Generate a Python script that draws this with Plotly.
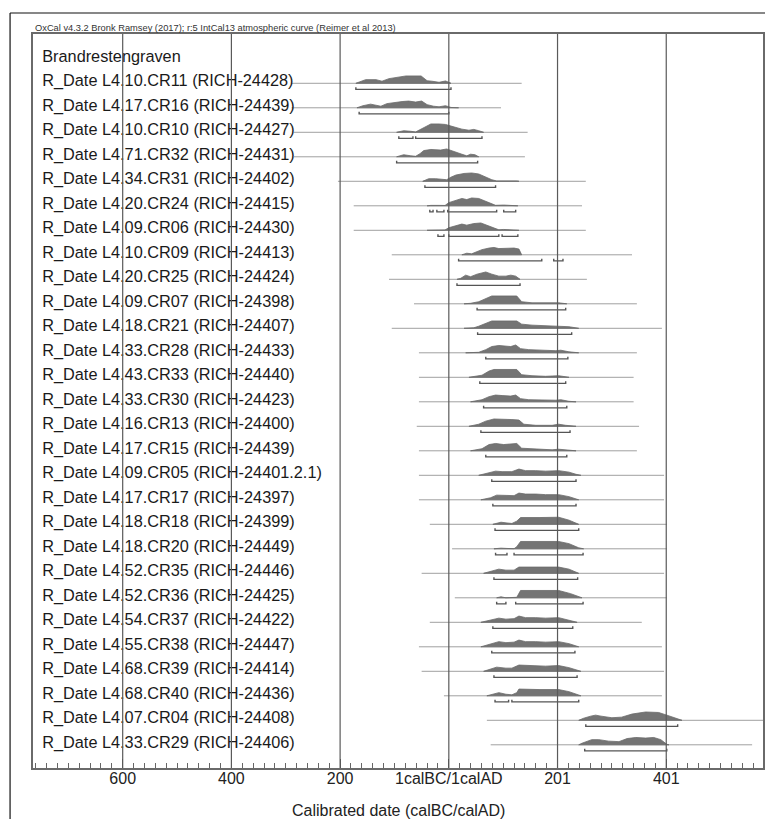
import plotly.graph_objects as go

# ---------------- data (years: BC negative, AD positive) ----------------
header = "Brandrestengraven"
labels = [
    "R_Date L4.10.CR11 (RICH-24428)", "R_Date L4.17.CR16 (RICH-24439)",
    "R_Date L4.10.CR10 (RICH-24427)", "R_Date L4.71.CR32 (RICH-24431)",
    "R_Date L4.34.CR31 (RICH-24402)", "R_Date L4.20.CR24 (RICH-24415)",
    "R_Date L4.09.CR06 (RICH-24430)", "R_Date L4.10.CR09 (RICH-24413)",
    "R_Date L4.20.CR25 (RICH-24424)", "R_Date L4.09.CR07 (RICH-24398)",
    "R_Date L4.18.CR21 (RICH-24407)", "R_Date L4.33.CR28 (RICH-24433)",
    "R_Date L4.43.CR33 (RICH-24440)", "R_Date L4.33.CR30 (RICH-24423)",
    "R_Date L4.16.CR13 (RICH-24400)", "R_Date L4.17.CR15 (RICH-24439)",
    "R_Date L4.09.CR05 (RICH-24401.2.1)", "R_Date L4.17.CR17 (RICH-24397)",
    "R_Date L4.18.CR18 (RICH-24399)", "R_Date L4.18.CR20 (RICH-24449)",
    "R_Date L4.52.CR35 (RICH-24446)", "R_Date L4.52.CR36 (RICH-24425)",
    "R_Date L4.54.CR37 (RICH-24422)", "R_Date L4.55.CR38 (RICH-24447)",
    "R_Date L4.68.CR39 (RICH-24414)", "R_Date L4.68.CR40 (RICH-24436)",
    "R_Date L4.07.CR04 (RICH-24408)", "R_Date L4.33.CR29 (RICH-24406)",
]

# extent of the thin horizontal line of each date
line_start = [-289, -289, -285, -285, -204, -175, -175, -105, -110, -64,
              -105, -55, -55, -55, -59, -55, -55, -55, -35, 6,
              -50, 11, -35, -55, -50, -9, 70, 77]
line_end = [134, 96, 145, 140, 252, 245, 252, 337, 254, 346,
            392, 346, 340, 340, 350, 346, 396, 396, 401, 401,
            396, 401, 355, 392, 396, 392, 580, 558]

# posterior probability shapes (year, relative probability)
dist_years = [
    [-171, -162, -153, -134, -123, -110, -92, -79, -51, -40, -31, -18, -6, 4],
    [-169, -158, -144, -125, -114, -97, -86, -74, -61, -50, -40, -28, -18, -6, 4, 18],
    [-96, -83, -70, -61, -55, -42, -33, -18, -6, 4, 13, 24, 37, 46, 55, 64],
    [-96, -83, -70, -61, -53, -46, -33, -22, -15, -4, 4, 13, 24, 33, 40, 48, 55],
    [-48, -37, -24, -13, -4, 4, 13, 28, 42, 55, 68, 79, 88, 101, 125, 129],
    [-40, -33, -18, -7, 0, 13, 24, 33, 42, 55, 64, 77, 86, 101, 123, 127],
    [-40, -18, -7, 0, 13, 24, 33, 46, 59, 70, 83, 92, 101, 125, 129],
    [24, 28, 33, 42, 52, 61, 74, 83, 92, 105, 120, 129, 134],
    [15, 22, 31, 40, 52, 68, 79, 92, 105, 114, 123, 131],
    [28, 40, 55, 68, 79, 125, 134, 153, 178, 202, 217],
    [28, 46, 55, 68, 79, 125, 134, 153, 178, 202, 221, 239],
    [31, 55, 68, 79, 92, 105, 114, 123, 132, 147, 171, 197, 206, 221, 239],
    [37, 61, 74, 83, 125, 134, 153, 178, 202, 221],
    [40, 61, 74, 86, 98, 114, 123, 132, 147, 171, 197, 206, 221, 234],
    [37, 55, 68, 83, 116, 129, 138, 160, 190, 202, 215, 234],
    [40, 61, 74, 86, 101, 116, 125, 134, 160, 190, 202, 221, 234],
    [55, 74, 86, 98, 116, 129, 141, 160, 178, 202, 221, 234, 243],
    [59, 77, 88, 101, 120, 129, 141, 160, 178, 202, 221, 239],
    [81, 96, 107, 116, 125, 132, 166, 202, 221, 239],
    [83, 96, 107, 120, 125, 132, 202, 221, 239, 248],
    [64, 77, 92, 105, 120, 129, 147, 178, 202, 221, 239],
    [88, 96, 105, 125, 132, 202, 224, 245],
    [59, 74, 92, 105, 120, 129, 141, 160, 178, 202, 221, 236],
    [59, 74, 92, 105, 120, 129, 141, 160, 178, 202, 221, 239],
    [64, 77, 88, 105, 116, 129, 147, 178, 202, 221, 243],
    [70, 79, 92, 105, 116, 125, 129, 166, 202, 221, 243],
    [239, 248, 261, 270, 280, 291, 300, 318, 337, 362, 386, 401, 423, 429],
    [239, 245, 263, 276, 294, 313, 328, 344, 362, 377, 390, 401, 405],
]
dist_prob = [
    [0, .25, .44, .44, .25, .56, .75, .88, .88, .31, .25, .12, .28, 0],
    [0, .25, .44, .19, .5, .69, .75, .81, .69, .81, .38, .19, .12, .25, .04, 0],
    [0, .19, .12, .04, .25, .75, 1, 1, .94, .75, .56, .38, .25, .35, .19, 0],
    [0, .25, .12, .06, .38, .75, .88, .88, .81, .94, .75, .5, .31, .12, .31, .25, 0],
    [0, .31, .31, .25, .19, .5, .75, .94, 1, .88, .5, .19, .04, .06, .04, 0],
    [0, .05, .05, .04, .38, .62, .88, .75, .94, .88, .62, .31, .06, .09, .06, 0],
    [0, .05, .04, .31, .5, .75, .62, .81, .88, .62, .25, .06, .1, .06, 0],
    [0, .12, .19, .12, .38, .62, .81, .88, .75, .81, .81, .69, 0],
    [0, .12, .5, .31, .62, .88, .62, .38, .38, .5, .38, 0],
    [0, .06, .25, .62, .94, .94, .25, .12, .09, .12, 0],
    [0, .06, .25, .62, .88, .88, .5, .38, .31, .31, .19, 0],
    [0, .06, .38, .75, .88, .75, .75, .94, .5, .38, .31, .25, .31, .12, 0],
    [0, .25, .75, .94, .94, .31, .19, .12, .19, 0],
    [0, .25, .62, .81, .75, .69, .81, .38, .25, .19, .19, .25, .06, 0],
    [0, .25, .62, .88, .81, .75, .25, .12, .12, .25, .12, 0],
    [0, .25, .75, .88, .75, .81, .88, .31, .19, .12, .19, .06, 0],
    [0, .25, .5, .44, .44, .75, .56, .56, .5, .56, .38, .12, 0],
    [0, .25, .56, .5, .5, .81, .69, .69, .62, .62, .38, 0],
    [0, .25, .16, .1, .38, .81, .81, .85, .5, 0],
    [0, .08, .04, .01, .25, .88, .88, .62, .12, 0],
    [0, .25, .5, .38, .38, .75, .75, .69, .75, .5, 0],
    [0, .12, 0, .06, .88, .88, .5, 0],
    [0, .25, .5, .38, .44, .75, .56, .56, .5, .56, .25, 0],
    [0, .25, .62, .5, .56, .81, .62, .62, .56, .62, .38, 0],
    [0, .25, .5, .38, .38, .75, .69, .62, .69, .44, 0],
    [0, .19, .38, .19, .12, .38, .81, .75, .75, .5, 0],
    [0, .25, .5, .62, .5, .38, .31, .38, .75, 1, .94, .62, .12, 0],
    [0, .19, .62, .62, .44, .38, .75, .88, .81, .88, .62, .06, 0],
]

# 95.4% highest probability ranges
hpd_ranges = [
    [(-171, 4)], [(-165, 0)], [(-92, -66), (-61, 61)], [(-96, 53)],
    [(-44, 86)], [(-35, -29), (-22, -9), (-2, 88), (101, 123)],
    [(-20, -9), (0, 92), (98, 127)], [(18, 171), (193, 210)],
    [(15, 131)], [(52, 215)], [(53, 226)], [(68, 219)], [(57, 215)],
    [(64, 217)], [(59, 223)], [(68, 217)], [(79, 234)], [(81, 234)],
    [(85, 239)], [(86, 107), (120, 247)], [(83, 237)],
    [(88, 105), (123, 247)], [(81, 228)], [(79, 232)], [(83, 236)],
    [(85, 110), (116, 239)], [(252, 421)], [(250, 401)],
]

tick_vals = [-600, -400, -200, 0, 200, 400]
tick_text = ["600", "400", "200", "1calBC/1calAD", "201", "401"]

title_text = "OxCal v4.3.2 Bronk Ramsey (2017); r:5 IntCal13 atmospheric curve (Reimer et al 2013)"
x_title = "Calibrated date (calBC/calAD)"

# ---------------- styling / geometry ----------------
# the page body adds an 8px margin, so the figure is 8px smaller / shifted
W, H = 765, 811
ML, MR, MT, MB = 25, 8, 26, 51
X_RANGE = [-765, 578]
Y_RANGE = [28.947, -1.012]
H_SCALE = 0.34     # height of a relative probability of 1 (row units)
BR_OFF = 0.25      # bracket offset below the baseline
BR_CAP = 0.09      # bracket end-cap length
FONT = "Liberation Sans, Arial, sans-serif"

fig = go.Figure()

# thin horizontal lines
lx, ly = [], []
for k, (a, b) in enumerate(zip(line_start, line_end), start=1):
    lx += [a, b, None]
    ly += [k, k, None]
fig.add_trace(go.Scatter(x=lx, y=ly, mode="lines",
                         line=dict(color="#a0a0a0", width=1),
                         hoverinfo="skip", showlegend=False))

# probability distributions
for k, (xs, ps) in enumerate(zip(dist_years, dist_prob), start=1):
    px = list(xs) + [xs[-1], xs[0]]
    py = [k - p * H_SCALE for p in ps] + [k, k]
    fig.add_trace(go.Scatter(x=px, y=py, mode="lines", fill="toself",
                             fillcolor="#747474",
                             line=dict(color="#6a6a6a", width=0.8),
                             hoverinfo="skip", showlegend=False))

# range brackets
bx, by = [], []
for k, segs in enumerate(hpd_ranges, start=1):
    yb = k + BR_OFF
    for a, b in segs:
        bx += [a, a, b, b, None]
        by += [yb - BR_CAP, yb, yb, yb - BR_CAP, None]
fig.add_trace(go.Scatter(x=bx, y=by, mode="lines",
                         line=dict(color="#555555", width=1.4),
                         hoverinfo="skip", showlegend=False))

# row labels
txt_y = [0] + list(range(1, len(labels) + 1))
fig.add_trace(go.Scatter(x=[-748] * len(txt_y), y=[v - 0.05 for v in txt_y],
                         mode="text", text=[header] + labels,
                         textposition="middle right",
                         textfont=dict(family=FONT, size=16.3, color="#1a1a1a"),
                         hoverinfo="skip", showlegend=False))

# vertical grid lines drawn above everything
shapes = []
for v in tick_vals:
    shapes.append(dict(type="line", xref="x", yref="paper", x0=v, x1=v, y0=0, y1=1,
                       line=dict(color="#5a5a5a", width=1.2), layer="above"))

# outer frame (top and left)
pw, ph = W - ML - MR, H - MT - MB
def pxx(p):
    return (p - ML) / pw
def pxy(p):
    return (H - MB - p) / ph
shapes.append(dict(type="line", xref="paper", yref="paper",
                   x0=pxx(2), x1=pxx(W), y0=pxy(5), y1=pxy(5),
                   line=dict(color="#111111", width=1.2)))
shapes.append(dict(type="line", xref="paper", yref="paper",
                   x0=pxx(2), x1=pxx(2), y0=pxy(5), y1=pxy(H),
                   line=dict(color="#111111", width=1.2)))

annotations = [
    dict(text=title_text, xref="paper", yref="paper", x=0, y=1,
         xanchor="left", yanchor="bottom", showarrow=False, yshift=-1,
         font=dict(family=FONT, size=9.3, color="#333333")),
    dict(text=x_title, xref="paper", yref="paper", x=0.5, y=pxy(803),
         xanchor="center", yanchor="middle", showarrow=False,
         font=dict(family=FONT, size=16, color="#222222")),
]

fig.update_layout(
    width=W, height=H,
    margin=dict(l=ML, r=MR, t=MT, b=MB, pad=0),
    paper_bgcolor="white", plot_bgcolor="white",
    shapes=shapes, annotations=annotations,
    xaxis=dict(range=X_RANGE, tickmode="array", tickvals=tick_vals, ticktext=tick_text,
               ticks="inside", ticklen=9, tickwidth=1, tickcolor="#555555",
               ticklabelstandoff=-5,
               minor=dict(ticks="inside", ticklen=5, tickwidth=1, tickcolor="#666666",
                          tickmode="linear", tick0=0, dtick=20, showgrid=False),
               showgrid=False, zeroline=False,
               showline=True, mirror=True, linecolor="#6a6a6a", linewidth=1.6,
               tickfont=dict(family=FONT, size=16, color="#222222"),
               fixedrange=True),
    yaxis=dict(range=Y_RANGE, showticklabels=False, ticks="", showgrid=False,
               zeroline=False, showline=True, mirror=True,
               linecolor="#6a6a6a", linewidth=1.6, fixedrange=True),
    showlegend=False,
)

fig.write_html("out.html")
